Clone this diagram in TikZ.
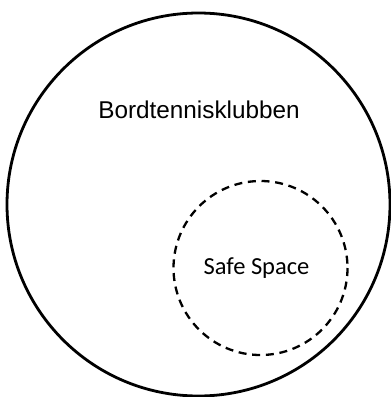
\documentclass[tikz,border=0pt]{standalone}
\usepackage{fontspec}
\setmainfont{Liberation Sans}
\newfontfamily\calfont{Carlito}
\tikzset{
  outer/.style={draw=black, line width=2.8pt},
  inner/.style={draw=black, line width=2.3pt, dash pattern=on 8pt off 5.7pt},
  lbl/.style={inner sep=0pt, text=black}
}
\begin{document}
\begin{tikzpicture}[x=1pt,y=-1pt]
\useasboundingbox (0,0) rectangle (391,397);
\fill[white] (0,0) rectangle (391,397);
\draw[outer] (198.5,204.5) circle (191.5);
\draw[inner] (260.5,268) circle (87);
\node[lbl, font=\fontsize{24.3}{29}\selectfont] (club) at (199,110) {Bordtennisklubben};
\node[lbl, font=\calfont\fontsize{24.5}{29}\selectfont] (safe) at (256.5,268) {Safe Space};
\end{tikzpicture}
\end{document}
